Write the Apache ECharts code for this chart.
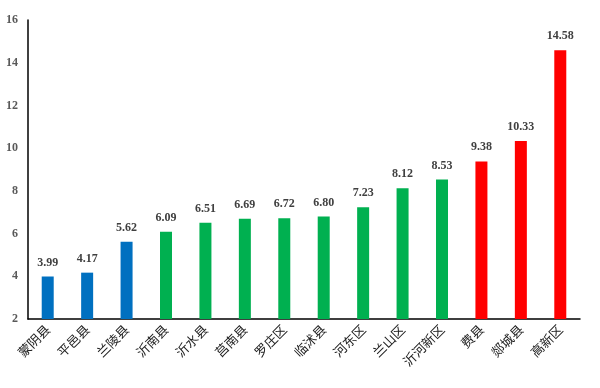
<!DOCTYPE html>
<html><head><meta charset="utf-8">
<script src="https://cdn.jsdelivr.net/npm/echarts@6/dist/echarts.min.js"></script>
<style>html,body{margin:0;padding:0;background:#fff}#c{width:600px;height:388px}</style>
</head><body><div id="c"></div>
<script>
var categories = ['蒙阴县','平邑县','兰陵县','沂南县','沂水县','莒南县','罗庄区','临沭县','河东区','兰山区','沂河新区','费县','郯城县','高新区'];
var values = [3.99,4.17,5.62,6.09,6.51,6.69,6.72,6.80,7.23,8.12,8.53,9.38,10.33,14.58];
var groups = ['blue','blue','blue','green','green','green','green','green','green','green','green','red','red','red'];
var yTicks = [2,4,6,8,10,12,14,16];
var palette = {blue:'#0070C0', green:'#00B050', red:'#FF0000'};
var chart = echarts.init(document.getElementById('c'));
chart.setOption({
  animation:false,
  grid:{left:28,top:20,right:20,bottom:69,containLabel:false},
  xAxis:{type:'category',data:categories,
    axisLine:{lineStyle:{color:'#000',width:1.5}},
    axisTick:{show:false},
    axisLabel:{rotate:45,interval:0,fontFamily:'Noto Sans CJK SC',fontSize:13,color:'#222',margin:8}},
  yAxis:{type:'value',min:yTicks[0],max:yTicks[yTicks.length-1],interval:2,
    axisLine:{show:true,lineStyle:{color:'#000',width:1.5}},
    axisTick:{show:false},splitLine:{show:false},
    axisLabel:{fontFamily:'Liberation Serif',fontWeight:'bold',fontSize:12,color:'#595959',margin:10}},
  series:[{type:'bar',barWidth:12,
    data:values.map(function(v,i){return {value:v,itemStyle:{color:palette[groups[i]]}};}),
    label:{show:true,position:'top',distance:8,formatter:function(p){return p.value.toFixed(2);},
      fontFamily:'Liberation Serif',fontWeight:'bold',fontSize:12,color:'#404040'}}]
});
</script></body></html>
